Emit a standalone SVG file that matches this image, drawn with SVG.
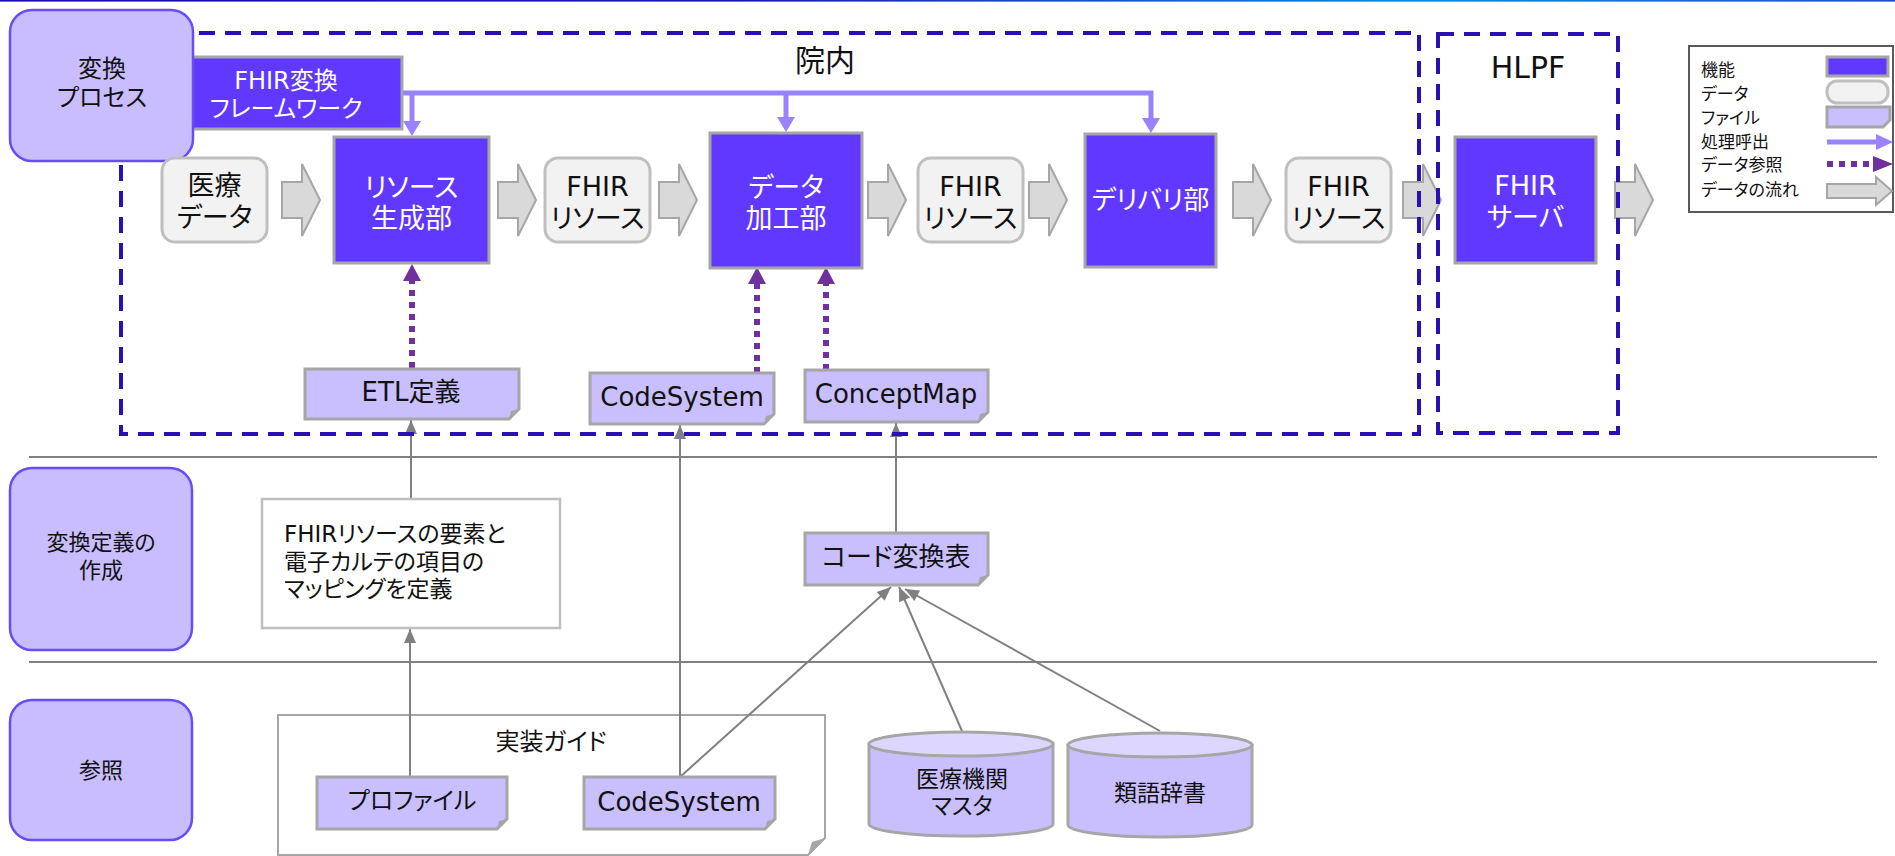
<svg xmlns="http://www.w3.org/2000/svg" width="1895" height="856" viewBox="0 0 1895 856">
  <defs>
    <linearGradient id="topBar" x1="0" y1="0" x2="1895" y2="0" gradientUnits="userSpaceOnUse">
      <stop offset="0" stop-color="#1a0aa8"/>
      <stop offset="0.4" stop-color="#1a1aae"/>
      <stop offset="0.75" stop-color="#0a8ad8"/>
      <stop offset="1" stop-color="#1e4ec0"/>
    </linearGradient>
    <!-- block arrow for data flow, origin at left-middle -->
    <path id="flowArrow" d="M0,-18 H20 V-36 L38,0 L20,36 V18 H0 Z"/>
    <marker id="mGray" markerUnits="userSpaceOnUse" markerWidth="14" markerHeight="12" refX="14" refY="6" orient="auto" overflow="visible">
      <path d="M0,0 L14,6 L0,12 Z" fill="#808080"/>
    </marker>
    <marker id="mCall" markerUnits="userSpaceOnUse" markerWidth="15" markerHeight="18" refX="0" refY="9" orient="auto" overflow="visible">
      <path d="M0,0 L15,9 L0,18 Z" fill="#9a82ff"/>
    </marker>
    <marker id="mRef" markerUnits="userSpaceOnUse" markerWidth="17" markerHeight="18" refX="0" refY="9" orient="auto" overflow="visible">
      <path d="M0,0 L17,9 L0,18 Z" fill="#7030a0"/>
    </marker>
  </defs>
  <style>
    text { font-family: "DejaVu Sans", "Noto Sans CJK JP", sans-serif; font-feature-settings: "palt"; fill: #111; }
    .c { text-anchor: middle; dominant-baseline: central; }
    .l { text-anchor: start; dominant-baseline: central; }
    .proc { fill: #c9bdff; stroke: #6a4cf5; stroke-width: 2.5; }
    .func { fill: #6038ff; stroke: #a6a6a6; stroke-width: 3; }
    .data { fill: #f2f2f2; stroke: #bfbfbf; stroke-width: 3; }
    .file { fill: #c9bfff; stroke: #a6a6a6; stroke-width: 3; }
    .fold { fill: #a6a6a6; }
    .db { fill: #c9bfff; stroke: #a6a6a6; stroke-width: 3; }
    .dbtop { fill: #ddd6ff; stroke: #a6a6a6; stroke-width: 3; }
    .flow { fill: #d9d9d9; stroke: #a6a6a6; stroke-width: 2; }
    .call { fill: none; stroke: #9a82ff; stroke-width: 5; }
    .ref { fill: none; stroke: #7030a0; stroke-width: 6; stroke-dasharray: 6 6; }
    .link { fill: none; stroke: #808080; stroke-width: 2; }
    .zone { fill: none; stroke: #2b0fb5; stroke-width: 4; stroke-dasharray: 16 10; }
    .sep { stroke: #808080; stroke-width: 2; }
    .w { fill: #ffffff; }
    .f27 { font-size: 27px; }
    .f26 { font-size: 26px; }
    .f24 { font-size: 24px; }
    .f23 { font-size: 23px; }
    .f22 { font-size: 22px; }
    .f17 { font-size: 17px; }
    .f30 { font-size: 30px; }
  </style>

  <rect x="0" y="0" width="1895" height="856" fill="#ffffff"/>
  <rect x="0" y="0" width="1895" height="1.6" fill="url(#topBar)"/>

  <!-- row separators -->
  <g id="separators">
    <line class="sep" x1="29" y1="457" x2="1877" y2="457"/>
    <line class="sep" x1="29" y1="662" x2="1877" y2="662"/>
  </g>

  <!-- guide container sits under the links that leave its files -->
  <g id="implementation-guide">
    <path d="M278,715 H825 V838 L808,855 H278 Z" fill="#ffffff" stroke="#a6a6a6" stroke-width="2"/>
    <path class="fold" d="M825,838 L808,855 L812,842 Z"/>
    <text class="c f24" x="551" y="742">実装ガイド</text>
  </g>

  <g id="connectors">
    <!-- data flow -->
    <use href="#flowArrow" class="flow" x="282" y="200"/>
    <use href="#flowArrow" class="flow" x="498" y="200"/>
    <use href="#flowArrow" class="flow" x="659" y="200"/>
    <use href="#flowArrow" class="flow" x="868" y="200"/>
    <use href="#flowArrow" class="flow" x="1029" y="200"/>
    <use href="#flowArrow" class="flow" x="1233" y="200"/>
    <use href="#flowArrow" class="flow" x="1403" y="200"/>
    <use href="#flowArrow" class="flow" x="1615" y="200"/>
    <!-- process calls from the framework -->
    <path class="call" d="M402,93 H1151 V118" marker-end="url(#mCall)"/>
    <path class="call" d="M412,93 V121" marker-end="url(#mCall)"/>
    <path class="call" d="M786,93 V117" marker-end="url(#mCall)"/>
    <!-- data references -->
    <path class="ref" d="M412,368 V281" marker-end="url(#mRef)"/>
    <path class="ref" d="M757,373 V284" marker-end="url(#mRef)"/>
    <path class="ref" d="M826,370 V284" marker-end="url(#mRef)"/>
    <!-- derivation links -->
    <path class="link" d="M411,499 V420" marker-end="url(#mGray)"/>
    <path class="link" d="M680,777 V425" marker-end="url(#mGray)"/>
    <path class="link" d="M896,533 V423" marker-end="url(#mGray)"/>
    <path class="link" d="M410,777 V629" marker-end="url(#mGray)"/>
    <path class="link" d="M680,777 L891,587" marker-end="url(#mGray)"/>
    <path class="link" d="M962,731 L899,587" marker-end="url(#mGray)"/>
    <path class="link" d="M1160,731 L905,589" marker-end="url(#mGray)"/>
  </g>

  <!-- zones -->
  <g id="zone-innai">
    <rect class="zone" x="121" y="33" width="1298" height="401"/>
    <text class="c f30" x="825" y="60">院内</text>
  </g>
  <g id="zone-hlpf">
    <rect class="zone" x="1438" y="34" width="180" height="399"/>
    <text class="c f30" x="1528" y="67">HLPF</text>
  </g>

  <!-- framework -->
  <g id="fhir-framework">
    <rect class="func" x="170" y="57" width="232" height="72"/>
    <text class="c f24 w" x="286" y="81">FHIR変換</text>
    <text class="c f24 w" x="286" y="109">フレームワーク</text>
  </g>

  <!-- lane headers -->
  <g id="lane-process">
    <rect class="proc" x="10" y="10" width="183" height="151" rx="22"/>
    <text class="c f24" x="102" y="69">変換</text>
    <text class="c f24" x="102" y="98">プロセス</text>
  </g>
  <g id="lane-definition">
    <rect class="proc" x="10" y="468" width="182" height="182" rx="22"/>
    <text class="c f22" x="101" y="542">変換定義の</text>
    <text class="c f22" x="101" y="570">作成</text>
  </g>
  <g id="lane-reference">
    <rect class="proc" x="10" y="700" width="182" height="140" rx="22"/>
    <text class="c f22" x="101" y="770">参照</text>
  </g>

  <!-- pipeline -->
  <g id="medical-data">
    <rect class="data" x="162" y="158" width="105" height="84" rx="13"/>
    <text class="c f27" x="214.5" y="185">医療</text>
    <text class="c f27" x="214.5" y="217">データ</text>
  </g>
  <g id="resource-generator">
    <rect class="func" x="334" y="137" width="155" height="126"/>
    <text class="c f27 w" x="411.5" y="187">リソース</text>
    <text class="c f27 w" x="411.5" y="218">生成部</text>
  </g>
  <g id="fhir-resource-1">
    <rect class="data" x="545" y="158" width="105" height="84" rx="13"/>
    <text class="c f27" x="597.5" y="186">FHIR</text>
    <text class="c f27" x="597.5" y="218">リソース</text>
  </g>
  <g id="data-processor">
    <rect class="func" x="710" y="133" width="152" height="135"/>
    <text class="c f27 w" x="786" y="187">データ</text>
    <text class="c f27 w" x="786" y="218">加工部</text>
  </g>
  <g id="fhir-resource-2">
    <rect class="data" x="918" y="158" width="105" height="84" rx="13"/>
    <text class="c f27" x="970.5" y="186">FHIR</text>
    <text class="c f27" x="970.5" y="218">リソース</text>
  </g>
  <g id="delivery">
    <rect class="func" x="1085" y="134" width="131" height="133"/>
    <text class="c f26 w" x="1150.5" y="200">デリバリ部</text>
  </g>
  <g id="fhir-resource-3">
    <rect class="data" x="1286" y="158" width="105" height="84" rx="13"/>
    <text class="c f27" x="1338.5" y="186">FHIR</text>
    <text class="c f27" x="1338.5" y="218">リソース</text>
  </g>
  <g id="fhir-server">
    <rect class="func" x="1455" y="137" width="141" height="126"/>
    <text class="c f27 w" x="1525.5" y="185">FHIR</text>
    <text class="c f27 w" x="1525.5" y="217">サーバ</text>
  </g>

  <!-- definition files -->
  <g id="etl-definition">
    <path class="file" d="M305,369 H519 V409 L509,419 H305 Z"/>
    <path class="fold" d="M519,409 L509,419 L511,411 Z"/>
    <text class="c f26" x="411" y="392">ETL定義</text>
  </g>
  <g id="codesystem-runtime">
    <path class="file" d="M590,373 H774 V414 L764,424 H590 Z"/>
    <path class="fold" d="M774,414 L764,424 L766,416 Z"/>
    <text class="c f26" x="682" y="397">CodeSystem</text>
  </g>
  <g id="conceptmap">
    <path class="file" d="M805,370 H988 V412 L978,422 H805 Z"/>
    <path class="fold" d="M988,412 L978,422 L980,414 Z"/>
    <text class="c f26" x="896" y="394">ConceptMap</text>
  </g>

  <g id="mapping-definition">
    <rect x="262" y="499" width="298" height="129" fill="#ffffff" stroke="#bfbfbf" stroke-width="2.5"/>
    <text class="l f23" x="284" y="534">FHIRリソースの要素と</text>
    <text class="l f23" x="284" y="562">電子カルテの項目の</text>
    <text class="l f23" x="284" y="589">マッピングを定義</text>
  </g>
  <g id="code-conversion-table">
    <path class="file" d="M805,533 H988 V575 L978,585 H805 Z"/>
    <path class="fold" d="M988,575 L978,585 L980,577 Z"/>
    <text class="c f26" x="896" y="557">コード変換表</text>
  </g>

  <!-- references -->
  <g id="profile">
    <path class="file" d="M317,777 H507 V819 L497,829 H317 Z"/>
    <path class="fold" d="M507,819 L497,829 L499,821 Z"/>
    <text class="c f24" x="412" y="801">プロファイル</text>
  </g>
  <g id="codesystem-guide">
    <path class="file" d="M584,777 H775 V819 L765,829 H584 Z"/>
    <path class="fold" d="M775,819 L765,829 L767,821 Z"/>
    <text class="c f26" x="679" y="802">CodeSystem</text>
  </g>
  <g id="facility-master">
    <path class="db" d="M869,744 V824 A92,12 0 0 0 1053,824 V744 Z"/>
    <ellipse class="dbtop" cx="961" cy="744" rx="92" ry="12"/>
    <text class="c f23" x="962" y="779">医療機関</text>
    <text class="c f23" x="962" y="806">マスタ</text>
  </g>
  <g id="thesaurus">
    <path class="db" d="M1068,745 V825 A92,12 0 0 0 1252,825 V745 Z"/>
    <ellipse class="dbtop" cx="1160" cy="745" rx="92" ry="12"/>
    <text class="c f23" x="1160" y="793">類語辞書</text>
  </g>

  <!-- legend -->
  <g id="legend">
    <rect x="1689" y="46" width="204" height="166" fill="#ffffff" stroke="#595959" stroke-width="2"/>
    <text class="l f17" x="1701" y="70">機能</text>
    <text class="l f17" x="1701" y="94">データ</text>
    <text class="l f17" x="1701" y="118">ファイル</text>
    <text class="l f17" x="1701" y="142">処理呼出</text>
    <text class="l f17" x="1701" y="165">データ参照</text>
    <text class="l f17" x="1701" y="190">データの流れ</text>
    <rect class="func" x="1827" y="57" width="61" height="19" stroke-width="2"/>
    <rect class="data" x="1827" y="81" width="61" height="22" rx="10" stroke-width="2"/>
    <path class="file" d="M1827,107 H1890 V120 L1883,127 H1827 Z" stroke-width="2"/>
    <line class="call" x1="1827" y1="142" x2="1876" y2="142"/>
    <path d="M1876,134 L1893,142 L1876,150 Z" fill="#9a82ff"/>
    <line class="ref" x1="1827" y1="164" x2="1873" y2="164"/>
    <path d="M1873,156 L1893,164 L1873,172 Z" fill="#7030a0"/>
    <path class="flow" d="M1827,184 H1876 V177 L1892,191 L1876,205 V198 H1827 Z"/>
  </g>
</svg>
